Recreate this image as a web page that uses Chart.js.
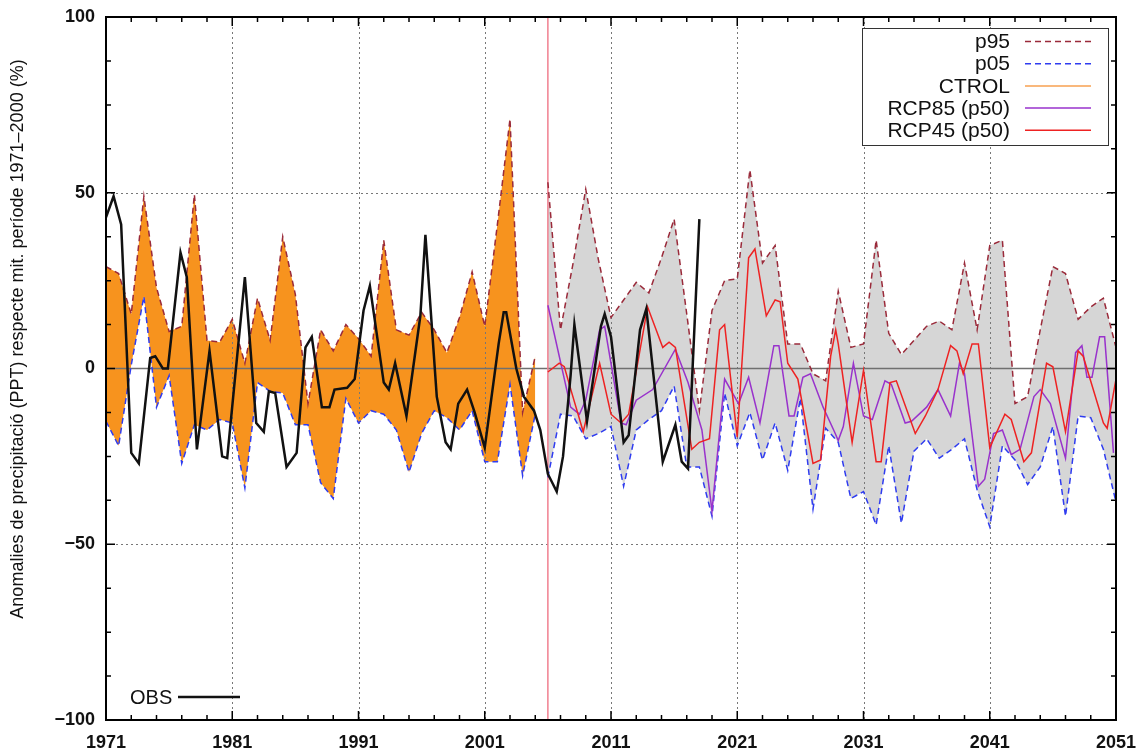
<!DOCTYPE html>
<html>
<head>
<meta charset="utf-8">
<script src="https://cdn.jsdelivr.net/npm/chart.js@4.4.1/dist/chart.umd.min.js"></script>
<style>
html, body { margin: 0; padding: 0; background: #fff; }
canvas { display: block; }
</style>
</head>
<body>
<canvas id="chart" width="1143" height="754"></canvas>
<script>
function yearsFrom(a, b) {
    var out = [];
    for (var y = a; y <= b; y++) out.push(y);
    return out;
}

// control period 1971-2005, projections 2006-2051
var ctrlYears = yearsFrom(1971, 2005);
var projYears = yearsFrom(2006, 2051);

var p95Ctrl = [29, 27, 15.5, 49, 23, 10.5, 12, 49.5, 8, 7.5,
    14, 1.5, 20, 8, 37.5, 21, -10, 11, 5, 12.5,
    8.5, 3.5, 36.5, 11, 9.5, 16, 11, 4.5, 14.5, 27.5,
    12, 41, 71, -12.5, 3.5];
var p05Ctrl = [-15, -22, 1, 20.5, -11, -2, -27, -16, -17.5, -14.5,
    -15.5, -34, -4, -6.5, -7, -16, -16, -32.5, -37, -8.5,
    -15.5, -12, -13, -17.5, -29.5, -18.5, -12, -14, -17.5, -12,
    -26.5, -26.5, -4.5, -30.5, -13];

var p95Proj = [53, 11, 30, 51, 31, 14.5, 19.5, 24.5, 21.5, 31.5,
    42.5, 15.5, -12, 16.5, 25, 25.5, 56.5, 30, 35, 7,
    7, -1.5, -3.5, 22, 6, 7, 36.5, 10, 4, 8,
    12, 13.5, 11, 30, 11, 35, 36.5, -10, -8, 11,
    29, 27, 14, 17.5, 20, 6];
var p05Proj = [-31, -13, -13.5, -20, -18.5, -16.5, -33.5, -17.5, -14.5, -12,
    -5, -28, -28, -42, -7, -22, -12.5, -26, -15.5, -29,
    -8.5, -40, -17, -21, -37, -35, -44.5, -22, -44, -23.5,
    -20, -25.5, -23, -20, -34.5, -45, -22, -26, -33, -28,
    -16.5, -42, -13.5, -14, -23, -38];

var rcp45Years = [2006, 2006.9, 2007.3, 2007.9, 2008.8, 2010.1, 2011, 2011.8, 2012.4, 2013.9,
    2015.1, 2015.6, 2016.1, 2017.4, 2018, 2018.8, 2019.6, 2020, 2021, 2021.9,
    2022.4, 2023.3, 2024, 2024.4, 2025, 2025.8, 2027, 2027.6, 2028.4, 2028.8,
    2029, 2030.1, 2031, 2032, 2032.4, 2033.1, 2033.6, 2035.1, 2035.9, 2036.9,
    2037.9, 2038.4, 2038.9, 2039.6, 2040.1, 2041, 2042.2, 2042.7, 2043.7, 2044.3,
    2045.5, 2046, 2047, 2048, 2048.4, 2050, 2050.3, 2051];
var rcp45 = [-1, 1.5, 0.5, -7, -18, 1.5, -13, -15.5, -13, 17.5,
    6, 7.5, 6, -23, -21, -20, 11, 12.5, -19.5, 31.5,
    34, 15, 19.5, 19, 1.5, -3, -27, -26, 3.5, 11,
    7, -21, -0.5, -26.5, -26.5, -4, -3.5, -18.5, -13.5, -6,
    6.5, 5, -1.5, 7, 7, -22.5, -13, -14.5, -26.5, -24,
    1.5, 0.5, -18, 5, 3.5, -15.5, -17, -3];

var rcp85Years = [2006, 2007.8, 2008.5, 2009, 2010.1, 2010.5, 2011.8, 2012.2, 2013, 2014.3,
    2016.1, 2017.1, 2018.2, 2019, 2020, 2021.1, 2021.9, 2022.8, 2023.9, 2024.3,
    2025.1, 2025.5, 2026.2, 2026.8, 2027.8, 2028.7, 2029, 2029.4, 2030.2, 2031,
    2031.7, 2032.7, 2033.2, 2034.3, 2034.8, 2036, 2036.9, 2037.9, 2038.6, 2039,
    2040.1, 2040.6, 2041.3, 2042, 2042.7, 2043.4, 2044.5, 2045, 2045.8, 2047,
    2047.8, 2048.3, 2048.7, 2049.1, 2049.7, 2050.1, 2050.8];
var rcp85 = [18, -11, -13, -9, 11, 12, -15.5, -16, -9, -6,
    5.5, -4, -17.5, -40.5, -3, -10, -2.5, -15.5, 6.5, 6.5,
    -13.5, -13.5, -2.5, -1.5, -11, -18, -20.5, -16.5, 1.5, -13.5,
    -14.5, -3.5, -4.5, -15.5, -15, -11, -6, -13.5, 1.5, -1.5,
    -33.5, -31.5, -18.5, -17.5, -24.5, -23, -8, -6, -10, -25.5,
    4.5, 6.5, -2.5, -2.5, 9, 9, -24];

var obsYears = [1971, 1971.6, 1972.2, 1973, 1973.6, 1974.5, 1974.9, 1975.5, 1975.9, 1976.9,
    1977.4, 1978.2, 1979.2, 1980.2, 1980.6, 1982, 1982.9, 1983.5, 1983.9, 1984.4,
    1985.3, 1986.1, 1986.8, 1987.3, 1988.1, 1988.7, 1989.1, 1990.1, 1990.7, 1991.4,
    1991.9, 1993, 1993.4, 1993.9, 1994.8, 1995.9, 1996.3, 1997.2, 1997.9, 1998.3,
    1998.9, 1999.6, 2000.2, 2001, 2002.1, 2002.5, 2002.7, 2003.5, 2004.1, 2004.9,
    2005.4, 2006, 2006.7, 2007.2, 2007.8, 2008.1, 2009.1, 2010.2, 2010.5, 2011,
    2012, 2012.4, 2013.3, 2013.8, 2015.1, 2016.1, 2016.6, 2017.1, 2018];
var obs = [43, 49, 41, -24, -27, 3, 3.5, 0, 0, 33,
    26, -23, 5, -25, -25.5, 26, -15.5, -18, -6.5, -7,
    -28, -24, 6, 9, -11, -11, -6, -5.5, -3, 16.5,
    23.5, -4, -6, 1.5, -13.5, 15, 38, -8, -21, -23,
    -10, -6, -12.5, -22.5, 7, 16, 16, 0, -8, -12,
    -17.5, -30, -35, -25, -2, 12.5, -15, 12, 15.5, 9,
    -21, -19, 11, 17, -26.5, -16, -26.5, -28.5, 42.5];

var xTicks = [1971, 1981, 1991, 2001, 2011, 2021, 2031, 2041, 2051];
var yTicks = [-100, -50, 0, 50, 100];
var splitYear = 2006;

var FONT = '"Liberation Sans", Arial, Helvetica, sans-serif';

function pts(xs, ys) {
    return xs.map(function (x, i) { return { x: x, y: ys[i] }; });
}

var decor = {
    id: 'decor',
    beforeDatasetsDraw: function (chart) {
        var c = chart.ctx, a = chart.chartArea, sx = chart.scales.x, sy = chart.scales.y;
        c.save();
        c.strokeStyle = '#777';
        c.lineWidth = 1;
        c.setLineDash([2, 3]);
        xTicks.slice(1, -1).forEach(function (v) {
            var px = Math.round(sx.getPixelForValue(v)) + 0.5;
            c.beginPath(); c.moveTo(px, a.top); c.lineTo(px, a.bottom); c.stroke();
        });
        yTicks.slice(1, -1).forEach(function (v) {
            if (v === 0) return;
            var py = Math.round(sy.getPixelForValue(v)) + 0.5;
            c.beginPath(); c.moveTo(a.left, py); c.lineTo(a.right, py); c.stroke();
        });
        c.setLineDash([]);
        // zero line
        c.strokeStyle = '#707070';
        c.lineWidth = 1.5;
        var pz = sy.getPixelForValue(0);
        c.beginPath(); c.moveTo(a.left, pz); c.lineTo(a.right, pz); c.stroke();
        // start of projections
        c.strokeStyle = '#f07f8f';
        c.lineWidth = 1.5;
        var ps = sx.getPixelForValue(splitYear);
        c.beginPath(); c.moveTo(ps, a.top); c.lineTo(ps, a.bottom); c.stroke();
        c.restore();
    },
    afterDraw: function (chart) {
        var c = chart.ctx, a = chart.chartArea, sx = chart.scales.x, sy = chart.scales.y;
        c.save();
        c.strokeStyle = '#000';
        c.lineWidth = 1.5;
        c.beginPath();
        // ticks, inward on all four sides
        for (var v = 1971; v <= 2051; v += 2) {
            var px = sx.getPixelForValue(v);
            var len = (v - 1971) % 10 === 0 ? 9 : 5;
            c.moveTo(px, a.bottom); c.lineTo(px, a.bottom - len);
            c.moveTo(px, a.top); c.lineTo(px, a.top + len);
        }
        for (var w = -100; w <= 100; w += 12.5) {
            var py = sy.getPixelForValue(w);
            var l2 = w % 50 === 0 ? 9 : 5;
            c.moveTo(a.left, py); c.lineTo(a.left + l2, py);
            c.moveTo(a.right, py); c.lineTo(a.right - l2, py);
        }
        c.stroke();
        c.lineWidth = 2;
        c.strokeRect(a.left, a.top, a.right - a.left, a.bottom - a.top);

        // y axis title
        c.save();
        c.translate(18, 339);
        c.rotate(-Math.PI / 2);
        c.fillStyle = '#111';
        c.font = '18px ' + FONT;
        c.textAlign = 'center';
        c.textBaseline = 'middle';
        c.fillText('Anomalies de precipitació (PPT) respecte mit. període 1971–2000 (%)', 0, 0);
        c.restore();

        // legend box
        var items = [
            { label: 'p95', color: '#9a2a3a', dash: [6, 4] },
            { label: 'p05', color: '#2f3cf0', dash: [6, 4] },
            { label: 'CTROL', color: '#f7a050', dash: [] },
            { label: 'RCP85 (p50)', color: '#9932cc', dash: [] },
            { label: 'RCP45 (p50)', color: '#ee2222', dash: [] }
        ];
        c.fillStyle = '#fff';
        c.fillRect(862, 28, 246, 117);
        c.strokeStyle = '#333';
        c.lineWidth = 1;
        c.strokeRect(862.5, 28.5, 246, 117);
        c.font = '21px ' + FONT;
        c.textAlign = 'right';
        c.textBaseline = 'middle';
        items.forEach(function (it, i) {
            var yy = 41.5 + i * 22.2;
            c.fillStyle = '#111';
            c.fillText(it.label, 1010, yy + 1);
            c.strokeStyle = it.color;
            c.lineWidth = 1.5;
            c.setLineDash(it.dash);
            c.beginPath(); c.moveTo(1025, yy); c.lineTo(1091, yy); c.stroke();
        });
        c.setLineDash([]);

        // OBS key
        c.fillStyle = '#111';
        c.font = '20px ' + FONT;
        c.textAlign = 'left';
        c.fillText('OBS', 130, 698);
        c.strokeStyle = '#111';
        c.lineWidth = 2.5;
        c.beginPath(); c.moveTo(178, 697); c.lineTo(240, 697); c.stroke();
        c.restore();
    }
};

var ctx = document.getElementById('chart').getContext('2d');
var chart = new Chart(ctx, {
    type: 'line',
    data: {
        datasets: [
            { label: 'p95', data: pts(ctrlYears, p95Ctrl), borderColor: '#9a2a3a', borderWidth: 1.5, borderDash: [6, 4], fill: false, order: 5 },
            { label: 'p05', data: pts(ctrlYears, p05Ctrl), borderColor: '#2f3cf0', borderWidth: 1.5, borderDash: [6, 4], fill: '-1', backgroundColor: '#f7931e', order: 6 },
            { label: 'p95 proj', data: pts(projYears, p95Proj), borderColor: '#9a2a3a', borderWidth: 1.5, borderDash: [6, 4], fill: false, order: 5 },
            { label: 'p05 proj', data: pts(projYears, p05Proj), borderColor: '#2f3cf0', borderWidth: 1.5, borderDash: [6, 4], fill: '-1', backgroundColor: '#d6d6d6', order: 6 },
            { label: 'RCP85 (p50)', data: pts(rcp85Years, rcp85), borderColor: '#9932cc', borderWidth: 1.5, fill: false, order: 3 },
            { label: 'RCP45 (p50)', data: pts(rcp45Years, rcp45), borderColor: '#ee2222', borderWidth: 1.5, fill: false, order: 2 },
            { label: 'OBS', data: pts(obsYears, obs), borderColor: '#111', borderWidth: 2.5, fill: false, order: 1 }
        ]
    },
    options: {
        responsive: false,
        animation: false,
        layout: { padding: { top: 17, right: 27, left: 0, bottom: 0 } },
        elements: { point: { radius: 0 }, line: { tension: 0 } },
        plugins: {
            legend: { display: false },
            tooltip: { enabled: false },
            filler: { drawTime: 'beforeDatasetsDraw' }
        },
        scales: {
            x: {
                type: 'linear', min: 1971, max: 2051,
                grid: { display: false }, border: { display: false },
                ticks: {
                    stepSize: 10, padding: 4, color: '#111', maxRotation: 0,
                    font: { family: FONT, size: 18, weight: 'bold' },
                    callback: function (v) { return String(v); }
                },
                afterFit: function (s) { s.height = 34; }
            },
            y: {
                min: -100, max: 100,
                grid: { display: false }, border: { display: false },
                ticks: {
                    stepSize: 50, padding: 3, color: '#111',
                    font: { family: FONT, size: 18, weight: 'bold' },
                    callback: function (v) { return v < 0 ? '\u2212' + (-v) : String(v); }
                },
                afterFit: function (s) { s.width = 106; }
            }
        }
    },
    plugins: [decor]
});
</script>
</body>
</html>
